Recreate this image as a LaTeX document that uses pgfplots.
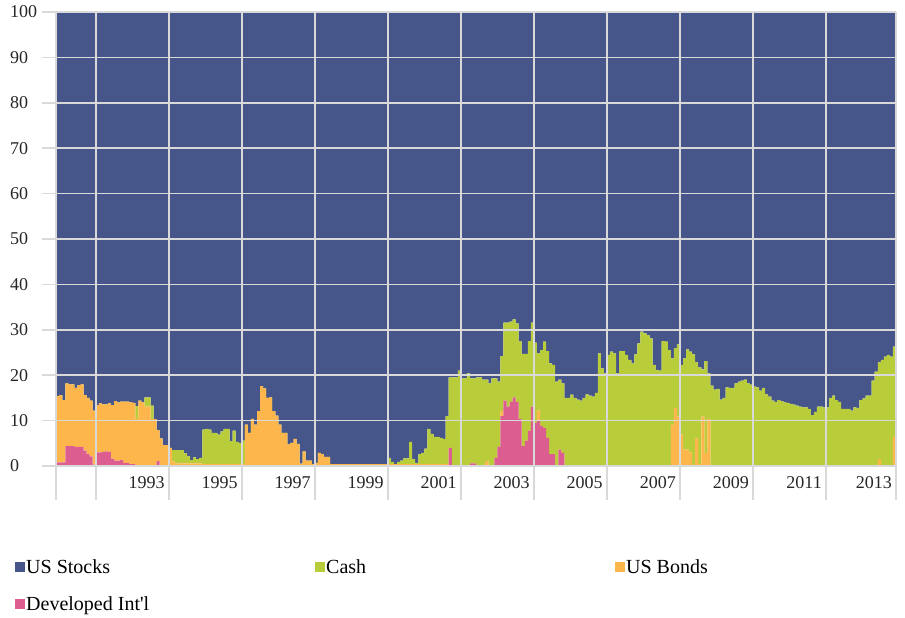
\documentclass[border=0pt]{standalone}
\usepackage{pgfplots}
\usepackage{pgfplotstable}
\pgfplotsset{compat=1.18}
\usepackage{fontspec}
\setmainfont{Liberation Serif}
\definecolor{stockc}{RGB}{70,86,138}
\definecolor{cashc}{RGB}{185,204,58}
\definecolor{bondc}{RGB}{253,182,76}
\definecolor{devc}{RGB}{220,94,145}
\definecolor{gridc}{RGB}{217,217,217}
\pgfplotstableread{
i dev bonds cash
0 0.8 14.6 0
1 0.8 14.8 0
2 0.8 13.7 0
3 4.4 13.8 0
4 4.4 13.6 0
5 4.4 13.6 0
6 4.2 13.0 0
7 4.2 13.6 0
8 4.2 13.8 0
9 3.4 12.2 0
10 2.6 12.4 0
11 2.1 12.3 0
12 0.3 11.9 0
13 3.0 10.4 0
14 3.0 10.8 0
15 3.1 10.5 0
16 3.2 10.4 0
17 3.1 10.7 0
18 1.6 11.8 0
19 1.2 13.1 0
20 1.2 12.8 0
21 1.3 12.9 0
22 0.7 13.5 0
23 0.7 13.5 0
24 0.4 13.6 0
25 0.4 13.5 0
26 0 10.3 2.9
27 0 14.4 0
28 0 14.0 0
29 0 13.1 2.0
30 0 13.1 2.0
31 0 10.3 3.0
32 0 10.3 0
33 1.1 6.8 0
34 0 6.1 0
35 0 4.6 0
36 0 4.6 0
37 0 4.0 0
38 0 1.0 2.5
39 0 0.6 2.9
40 0 0.6 2.9
41 0 0.6 2.9
42 0 0.6 2.2
43 0 0.6 1.5
44 0 0.6 0.7
45 0 0.6 1.3
46 0 0.6 0.9
47 0 0.6 1.2
48 0 0.4 7.6
49 0 0.4 7.8
50 0 0.4 7.6
51 0 0.4 6.9
52 0 0.4 6.9
53 0 0.4 6.5
54 0 0.4 7.2
55 0 0.4 7.8
56 0 0.4 7.8
57 0 0.4 5.1
58 0 0.4 7.4
59 0 0.4 4.9
60 0 0.4 4.7
61 0 0.4 5.2
62 0 9.1 0
63 0 7.3 0
64 0 10.4 0
65 0 9.1 0
66 0 12.1 0
67 0 17.6 0
68 0 17.1 0
69 0 15.0 0
70 0 15.1 0
71 0 12.1 0
72 0 11.1 0
73 0 9.1 0
74 0 7.3 0
75 0 7.3 0
76 0 4.8 0
77 0 5.1 0
78 0 6.0 0
79 0 4.9 0
80 0 0.5 0
81 0 3.2 0
82 0 1.2 0
83 0 1.2 0
84 0 0.4 0
85 0 0.7 0
86 0 2.9 0
87 0 2.6 0
88 0 2.0 0
89 0 2.0 0
90 0 0.4 0
91 0 0.4 0
92 0 0.4 0
93 0 0.4 0
94 0 0.4 0
95 0 0.4 0
96 0 0.4 0
97 0 0.4 0
98 0 0.4 0
99 0 0.4 0
100 0 0.4 0
101 0 0.4 0
102 0 0.4 0
103 0 0.4 0
104 0 0.4 0
105 0 0.4 0
106 0 0.4 0
107 0 0.4 0
108 0 0.4 0
109 0 0.4 1.4
110 0 0.4 0.5
111 0 0.4 0
112 0 0.4 0.5
113 0 0.4 0.8
114 0 0.4 1.3
115 0 0.4 1.3
116 0 0.4 4.9
117 0 0.4 1.1
118 0 0.4 0.3
119 0 0.4 2.2
120 0 0.4 2.5
121 0 0.4 3.4
122 0 0.4 7.8
123 0 0.4 6.7
124 0 0.4 6.0
125 0 0.4 6.0
126 0 0.4 5.8
127 0 0.4 5.6
128 0 0.4 10.6
129 4.0 0 15.5
130 0 0 19.5
131 0 0 19.5
132 0 0 21.0
133 0 0 19.3
134 0 0 19.3
135 0 0 20.4
136 0.6 0 18.7
137 0.6 0 18.7
138 0 0 19.5
139 0 0 19.5
140 0 0 19.0
141 0 1.1 17.9
142 0 0 18.2
143 0 0 19.3
144 1.8 0 17.5
145 4.2 0 14.4
146 11.0 1.1 12.1
147 14.4 0 17.2
148 13.1 0 18.5
149 14.1 0 17.7
150 15.1 0 17.2
151 14.1 0 17.3
152 10.4 0 17.1
153 4.4 0 20.3
154 5.6 0 19.1
155 7.8 0 19.7
156 13.1 0 18.5
157 9.5 0 17.7
158 9.9 2.3 12.6
159 8.8 0 16.7
160 8.4 0 19.0
161 6.2 0 19.1
162 2.6 0 20.0
163 2.6 0 19.7
164 0 0 18.6
165 3.6 0 15.4
166 2.9 0 15.3
167 0 0 15.0
168 0 0 15.0
169 0 0 15.7
170 0 0 15.0
171 0 0 14.6
172 0 0 14.4
173 0 0 15.0
174 0 0 15.8
175 0 0 15.5
176 0 0 15.3
177 0 0 16.1
178 0 0 24.8
179 0 0 21.5
180 0 0 20.4
181 0 0 24.5
182 0 0 25.2
183 0 0 24.8
184 0 0 20.4
185 0 0 25.3
186 0 0 25.3
187 0 0 24.5
188 0 0 23.4
189 0 0 22.6
190 0 0 24.6
191 0 0 27.0
192 0 0 29.6
193 0 0 29.2
194 0 0 28.8
195 0 0 28.1
196 0 0 22.3
197 0 0 21.2
198 0 0 21.0
199 0 0 27.5
200 0 0 27.4
201 0 0 25.5
202 0 9.1 14.6
203 0 12.8 13.1
204 0 10.9 15.9
205 0 6.9 15.4
206 0 3.6 20.1
207 0 3.6 22.1
208 0 3.0 22.2
209 0 0 24.6
210 0 6.1 16.7
211 0 0.4 21.3
212 0 10.9 10.4
213 0 2.9 20.2
214 0 10.4 10.0
215 0 0 17.7
216 0 0 16.8
217 0 0 17.0
218 0 0 14.6
219 0 0 15.0
220 0 0 17.3
221 0 0 17.2
222 0 0 17.2
223 0 0 18.2
224 0 0 18.6
225 0 0 18.8
226 0 0 19.0
227 0 0 18.2
228 0 0 17.9
229 0 0 17.5
230 0 0 17.3
231 0 0 16.6
232 0 0 17.2
233 0 0 15.8
234 0 0 15.3
235 0 0 14.4
236 0 0 14.1
237 0 0 14.5
238 0 0 14.3
239 0 0 14.0
240 0 0 13.9
241 0 0 13.7
242 0 0 13.5
243 0 0 13.3
244 0 0 13.1
245 0 0 12.9
246 0 0 12.9
247 0 0 12.6
248 0 0 11.2
249 0 0 11.9
250 0 0 13.1
251 0 0 13.1
252 0 0 12.9
253 0 0 12.9
254 0 0 15.0
255 0 0 15.5
256 0 0 14.5
257 0 0 14.1
258 0 0 12.6
259 0 0 12.6
260 0 0 12.6
261 0 0 12.2
262 0 0 12.9
263 0 0 12.8
264 0 0 14.5
265 0 0 14.9
266 0 0 15.5
267 0 0 15.5
268 0 0 18.8
269 0 0 20.8
270 0 1.5 21.3
271 0 0 23.4
272 0 0 24.1
273 0 0 24.5
274 0 0 24.1
275 0 6.4 19.9
276 0 6.4 19.9
}\alloc
\begin{document}
\begin{tikzpicture}
\begin{axis}[
  at={(0pt,0pt)}, anchor=south west,
  scale only axis, width=839.8pt, height=454pt,
  xmin=0, xmax=276, ymin=0, ymax=100,
  stack plots=y, const plot,
  clip=false,
  axis on top,
  axis x line*=bottom, axis y line*=left,
  axis line style={draw=gridc, line width=1.5pt},
  major tick length=0pt,
  grid=major,
  grid style={draw=gridc, line width=1.5pt},
  xtick={13,37,61,85,109,133,157,181,205,229,253,276},
  xticklabels={,1993,1995,1997,1999,2001,2003,2005,2007,2009,2011,2013},
  ytick={0,10,20,30,40,50,60,70,80,90,100},
  /pgf/number format/assume math mode=true,
  tick label style={font=\fontsize{18}{20}\selectfont, text=black!85},
  xticklabel style={anchor=east, inner sep=0pt, xshift=-4pt, yshift=-17pt},
  yticklabel style={anchor=west, inner sep=0pt, xshift=-46.2pt},
  legend columns=3,
  reverse legend,
  legend image code/.code={\fill[#1] (0pt,-5pt) rectangle (10pt,5pt);},
  legend style={draw=none, fill=none, at={(-0.04906,-0.2004)}, anchor=north west,
    font=\fontsize{20}{22}\selectfont, inner sep=0pt, row sep=18pt,
    /tikz/every odd column/.append style={column sep=-1pt}},
  legend cell align=left,
]
\addplot[fill=devc, draw=none] table[x=i, y=dev] {\alloc} \closedcycle;
\addplot[fill=bondc, draw=none] table[x=i, y=bonds] {\alloc} \closedcycle;
\addplot[fill=cashc, draw=none] table[x=i, y=cash] {\alloc} \closedcycle;
\addplot[fill=stockc, draw=none] table[x=i, y expr=100-\thisrow{dev}-\thisrow{bonds}-\thisrow{cash}] {\alloc} \closedcycle;
\addlegendentry{\makebox[150pt][l]{Developed Int\textquotesingle l}}
\addlegendentry{\makebox[287pt][l]{US Bonds}}
\addlegendentry{\makebox[287pt][l]{Cash}}
\addlegendentry{\makebox[287pt][l]{US Stocks}}
\pgfplotsinvokeforeach{0,13,37,61,85,109,133,157,181,205,229,253,276}{
  \draw[gridc, line width=1.5pt] (axis cs:#1,0) -- ++(0pt,-34pt);
}
\pgfplotsinvokeforeach{0,10,20,30,40,50,60,70,80,90,100}{
  \draw[gridc, line width=1.5pt] (axis cs:0,#1) -- ++(-14pt,0pt);
}
\end{axis}
\pgfresetboundingbox
\path (-56.2pt,-152pt) rectangle (848.8pt,466pt);
\end{tikzpicture}
\end{document}
